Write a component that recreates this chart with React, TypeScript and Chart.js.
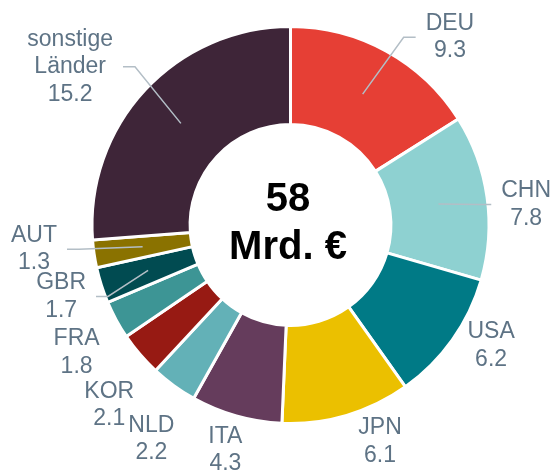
import React, { useEffect, useRef } from 'react';
import { Chart, registerables } from 'chart.js';

Chart.register(...registerables);

// ---- data ----
const categories = ['DEU', 'CHN', 'USA', 'JPN', 'ITA', 'NLD', 'KOR', 'FRA', 'GBR', 'AUT', 'sonstige Länder'];
const values = [9.3, 7.8, 6.2, 6.1, 4.3, 2.2, 2.1, 1.8, 1.7, 1.3, 15.2];
const totalLines = ['58', 'Mrd. €'];

// ---- styles ----
const colors = [
  '#E63F35', '#8ED1D1', '#007A86', '#EBC000', '#653C5C',
  '#63B1B7', '#971A13', '#3D9595', '#014B51', '#8A7200', '#3E2538',
];
const labelNudges: [number, number][] = [
  [46, 18], [3, 12.5], [9, -15.5], [23, -8.5], [-1, -1],
  [-1, 24], [-3, 27], [-7.5, 15.5], [-5.5, 0], [-24, -10], [-48, 1.5],
];
const showLeader = [true, true, false, false, false, false, false, false, true, true, true];

const FONT = "'Liberation Sans', Arial, Helvetica, sans-serif";
const LABEL_COLOR = '#5E7385';
const LEADER_COLOR = '#B3BEC6';

const labelPlugin = {
  id: 'outLabels',
  afterDatasetsDraw(chart: any) {
    const ctx = chart.ctx as CanvasRenderingContext2D;
    const meta = chart.getDatasetMeta(0);
    ctx.save();
    ctx.font = `23px ${FONT}`;
    let centerX = 0;
    let centerY = 0;
    meta.data.forEach((arc: any, i: number) => {
      const p = arc.getProps(['x', 'y', 'startAngle', 'endAngle', 'innerRadius', 'outerRadius'], true);
      centerX = p.x;
      centerY = p.y;
      const mid = (p.startAngle + p.endAngle) / 2;
      const lines = [...categories[i].split(' '), values[i].toFixed(1)];
      const r = p.outerRadius + 36.5;
      const cx = p.x + r * Math.cos(mid) + labelNudges[i][0];
      const cy = p.y + r * Math.sin(mid) + labelNudges[i][1];
      const lh = 27.5;
      const w = Math.max(...lines.map((l) => ctx.measureText(l).width));
      if (showLeader[i]) {
        const rm = (p.innerRadius + p.outerRadius) / 2;
        const sx = p.x + rm * Math.cos(mid);
        const sy = p.y + rm * Math.sin(mid);
        const right = cx > p.x;
        const ex = right ? cx - w / 2 - 10 : cx + w / 2 + 10;
        const elx = right ? ex - 12 : ex + 12;
        ctx.strokeStyle = LEADER_COLOR;
        ctx.lineWidth = 1.5;
        ctx.beginPath();
        ctx.moveTo(sx, sy);
        ctx.lineTo(elx, cy);
        ctx.lineTo(ex, cy);
        ctx.stroke();
      }
      ctx.fillStyle = LABEL_COLOR;
      ctx.textAlign = 'center';
      ctx.textBaseline = 'middle';
      lines.forEach((l, j) => {
        ctx.fillText(l, cx, cy + (j - (lines.length - 1) / 2) * lh);
      });
    });
    // center total
    ctx.font = `bold 40px ${FONT}`;
    ctx.fillStyle = '#000000';
    ctx.textAlign = 'center';
    ctx.textBaseline = 'alphabetic';
    ctx.fillText(totalLines[0], centerX - 2.5, centerY - 14);
    ctx.fillText(totalLines[1], centerX - 2.5, centerY + 34);
    ctx.restore();
  },
};

export default function App() {
  const canvasRef = useRef<HTMLCanvasElement>(null);
  useEffect(() => {
    if (!canvasRef.current) return;
    const chart = new Chart(canvasRef.current, {
      type: 'doughnut',
      data: {
        labels: categories,
        datasets: [
          {
            data: values,
            backgroundColor: colors,
            borderColor: '#ffffff',
            borderWidth: 3,
            hoverBorderWidth: 3,
            hoverOffset: 0,
            offset: 0,
          },
        ],
      },
      options: {
        responsive: false,
        animation: false,
        devicePixelRatio: 1,
        cutout: '50.6%',
        layout: { padding: { left: 90.5, right: 60.5, top: 25, bottom: 47 } },
        plugins: {
          legend: { display: false },
          tooltip: { enabled: false },
        },
        events: [],
      },
      plugins: [labelPlugin],
    });
    return () => chart.destroy();
  }, []);
  return (
    <div style={{ position: 'fixed', left: 0, top: 0, width: 551, height: 472, background: '#fff' }}>
      <canvas ref={canvasRef} width={551} height={472} style={{ display: 'block' }} />
    </div>
  );
}
